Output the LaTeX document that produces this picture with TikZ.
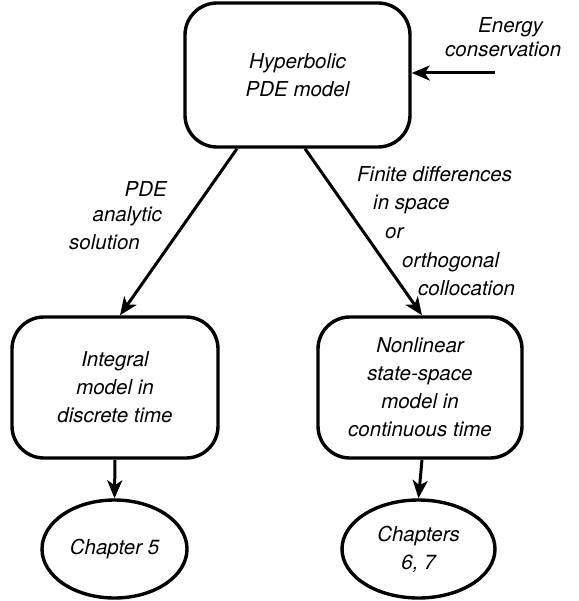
\documentclass[tikz,border=0pt]{standalone}
\usepackage{fontspec}
\setmainfont{TeX Gyre Heros}
\usetikzlibrary{arrows.meta,shapes.geometric}
\begin{document}
\begin{tikzpicture}[x=1pt,y=-1pt,
  every node/.style={font=\fontsize{20.5}{28}\selectfont\itshape},
  box/.style={draw,line width=3.4pt,rounded corners=32pt,align=center,inner sep=0pt},
  oval/.style={draw,line width=3.4pt,ellipse,align=center,inner sep=0pt},
  conn/.style={line width=3pt,-{Stealth[length=18pt,width=15pt,inset=5pt]}},
  lbl/.style={inner sep=0pt}]
\useasboundingbox (0,0) rectangle (578,601);
\node[box,minimum width=225pt,minimum height=144pt] (top) at (297.5,75) {Hyperbolic\\PDE model};
\node[box,minimum width=206pt,minimum height=141pt] (bl) at (115,387.5) {Integral\\model in\\discrete time};
\node[box,minimum width=204pt,minimum height=141pt] (br) at (420,387.5) {Nonlinear\\state-space\\model in\\continuous time};
\node[oval,minimum width=145pt,minimum height=98pt] (c5) at (114.5,549) {Chapter 5};
\node[oval,minimum width=153pt,minimum height=98pt] (c67) at (418.5,549) {Chapters\\6, 7};
\coordinate (ein) at (495,73);
\draw[conn] (ein) -- (top.east |- ein);
\draw[conn] ([xshift=-60.5pt]top.south) -- ([xshift=5pt]bl.north);
\draw[conn] ([xshift=7.5pt]top.south) -- ([xshift=2pt]br.north);
\draw[conn] (bl.south) -- (c5.north);
\draw[conn] ([xshift=2pt]br.south) -- (c67.north);
\node[lbl,anchor=base west] (e1) at (478,33) {Energy};
\node[lbl,anchor=base west] (e2) at (445,57) {conservation};
\node[lbl,anchor=base east] (l1) at (167,197) {PDE};
\node[lbl,anchor=base east] (l2) at (162,222) {analytic};
\node[lbl,anchor=base east] (l3) at (140,250) {solution};
\node[lbl,anchor=base west] (r1) at (357,182) {Finite differences};
\node[lbl,anchor=base west] (r2) at (373,210) {in space};
\node[lbl,anchor=base west] (r3) at (385,239) {or};
\node[lbl,anchor=base west] (r4) at (402,267) {orthogonal};
\node[lbl,anchor=base west] (r5) at (418,295) {collocation};
\end{tikzpicture}
\end{document}
